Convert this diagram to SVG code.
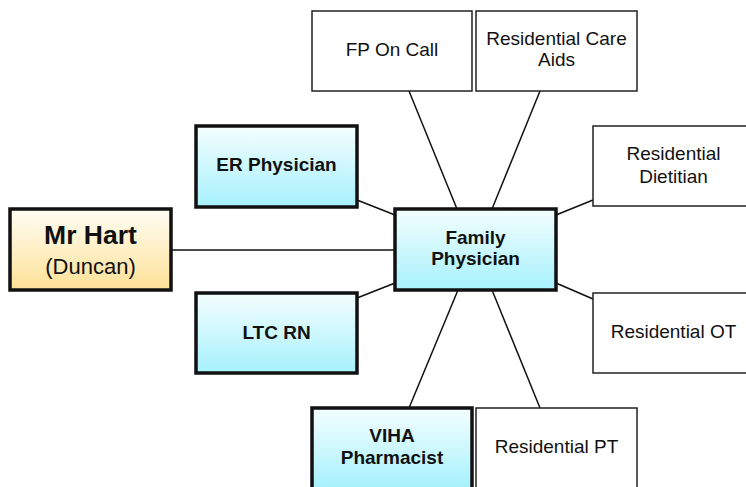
<svg xmlns="http://www.w3.org/2000/svg" width="746" height="487" viewBox="0 0 746 487">
<defs>
<linearGradient id="gBlue" x1="0" y1="0" x2="0" y2="1">
<stop offset="0" stop-color="#f4fefe"/>
<stop offset="1" stop-color="#a6f1fc"/>
</linearGradient>
<linearGradient id="gGold" x1="0" y1="0" x2="0" y2="1">
<stop offset="0" stop-color="#fffdf4"/>
<stop offset="1" stop-color="#fde196"/>
</linearGradient>
<style>
text{font-family:"Liberation Sans",Arial,Helvetica,sans-serif;fill:#111;text-anchor:middle}
.thick{stroke:#111;stroke-width:3.5}
.thin{fill:#fff;stroke:#222;stroke-width:1.5}
.blue{fill:url(#gBlue)}
.gold{fill:url(#gGold)}
.b{font-weight:bold;font-size:19px}
.r{font-size:19px}
.conn line{stroke:#111;stroke-width:1.5}
</style>
</defs>
<rect width="746" height="487" fill="#fff"/>
<g class="conn">
<line x1="171" y1="250" x2="395" y2="250"/>
<line x1="357" y1="200" x2="395" y2="215"/>
<line x1="357" y1="298" x2="395" y2="283"/>
<line x1="409" y1="91" x2="457" y2="209"/>
<line x1="540" y1="91" x2="492" y2="209"/>
<line x1="556" y1="215" x2="593" y2="200"/>
<line x1="556" y1="283" x2="593" y2="299"/>
<line x1="458" y1="290" x2="409" y2="408"/>
<line x1="492" y1="290" x2="540" y2="408"/>
</g>
<g id="mr-hart">
<rect class="thick gold" x="10" y="209" width="161" height="81"/>
<text x="90.5" y="244" style="font-weight:bold;font-size:26.5px">Mr Hart</text>
<text x="90.5" y="274" style="font-size:22px">(Duncan)</text>
</g>
<g id="er-physician">
<rect class="thick blue" x="196" y="126" width="161" height="81"/>
<text class="b" x="276.5" y="171">ER Physician</text>
</g>
<g id="ltc-rn">
<rect class="thick blue" x="196" y="293" width="161" height="80"/>
<text class="b" x="276.5" y="338.5">LTC RN</text>
</g>
<g id="family-physician">
<rect class="thick blue" x="395" y="209" width="161" height="81"/>
<text class="b" x="475.5" y="243.5">Family</text>
<text class="b" x="475.5" y="265">Physician</text>
</g>
<g id="fp-on-call">
<rect class="thin" x="312" y="11" width="160" height="80"/>
<text class="r" x="392" y="56">FP On Call</text>
</g>
<g id="residential-care-aids">
<rect class="thin" x="476" y="11" width="161" height="80"/>
<text class="r" x="556.5" y="45">Residential Care</text>
<text class="r" x="556.5" y="66">Aids</text>
</g>
<g id="residential-dietitian">
<rect class="thin" x="593" y="126" width="161" height="80"/>
<text class="r" x="673.5" y="160">Residential</text>
<text class="r" x="673.5" y="182.5">Dietitian</text>
</g>
<g id="residential-ot">
<rect class="thin" x="593" y="293" width="161" height="80"/>
<text class="r" x="673.5" y="338">Residential OT</text>
</g>
<g id="viha-pharmacist">
<rect class="thick blue" x="312" y="408" width="160" height="81"/>
<text class="b" x="392" y="442">VIHA</text>
<text class="b" x="392" y="464">Pharmacist</text>
</g>
<g id="residential-pt">
<rect class="thin" x="476" y="408" width="161" height="81"/>
<text class="r" x="556.5" y="453">Residential PT</text>
</g>
</svg>
